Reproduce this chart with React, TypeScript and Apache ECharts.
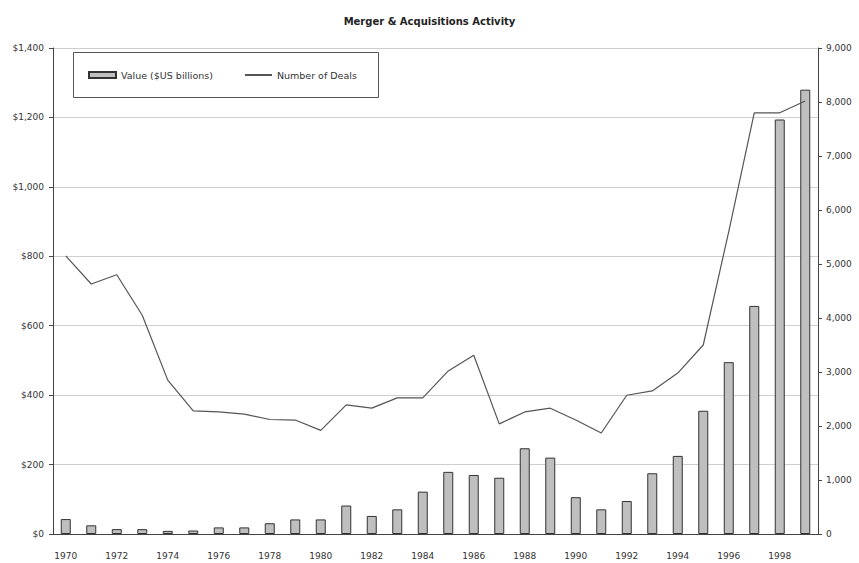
import React, { useEffect, useRef } from "react";
import * as echarts from "echarts";

const years = Array.from({ length: 30 }, (_, i) => String(1970 + i));
const dealValue = [43, 25, 14, 14, 9, 10, 19, 19, 31, 42, 42, 82, 52, 71, 122, 179, 170, 162, 247, 220, 106, 71, 95, 175, 225, 355, 495, 657, 1194, 1280];
const dealCount = [5150, 4630, 4800, 4050, 2850, 2280, 2260, 2220, 2120, 2110, 1920, 2390, 2330, 2520, 2520, 3020, 3310, 2040, 2260, 2330, 2110, 1870, 2570, 2650, 2980, 3500, 5600, 7800, 7800, 8020];

const FONT = "DejaVu Sans";

export default function App() {
  const ref = useRef<HTMLDivElement>(null);
  useEffect(() => {
    if (!ref.current) return;
    const chart = echarts.init(ref.current, null, { renderer: "svg" });
    const fmt = (v: number) => v.toLocaleString("en-US");
    chart.setOption({
      animation: false,
      backgroundColor: "#ffffff",
      title: {
        text: "Merger & Acquisitions Activity",
        left: "center",
        top: 11,
        textStyle: { fontFamily: FONT, fontSize: 10, fontWeight: "bold", color: "#222" },
      },
      graphic: [
        {
          type: "rect",
          left: 73,
          top: 52,
          shape: { width: 305, height: 45 },
          style: { fill: "#fff", stroke: "#555", lineWidth: 1 },
          z: 5,
        },
      ],
      legend: {
        left: 83,
        top: 65,
        itemGap: 31,
        itemWidth: 27,
        itemHeight: 6,
        itemStyle: {},
        z: 10,
        textStyle: { fontFamily: FONT, fontSize: 9.5, color: "#333" },
        data: [
          { name: "Value ($US billions)", icon: "rect" },
          { name: "Number of Deals", itemStyle: { opacity: 0 } },
        ],
      },
      grid: { left: 53, right: 41, top: 48, bottom: 29, containLabel: false },
      xAxis: {
        type: "category",
        data: years,
        boundaryGap: true,
        axisLine: { lineStyle: { color: "#444" } },
        axisTick: { interval: 1, length: 4, lineStyle: { color: "#444" } },
        axisLabel: { interval: 1, margin: 17, fontFamily: FONT, fontSize: 9, color: "#333" },
      },
      yAxis: [
        {
          type: "value",
          min: 0,
          max: 1400,
          interval: 200,
          axisLine: { show: true, lineStyle: { color: "#444" } },
          axisTick: { show: true, length: 4, lineStyle: { color: "#444" } },
          axisLabel: { margin: 9, fontFamily: FONT, fontSize: 9, color: "#333", formatter: (v: number) => "$" + fmt(v) },
          splitLine: { show: true, lineStyle: { color: "#cfcfcf", width: 1 } },
        },
        {
          type: "value",
          min: 0,
          max: 9000,
          interval: 1000,
          position: "right",
          axisLine: { show: true, lineStyle: { color: "#444" } },
          axisTick: { show: true, length: 4, lineStyle: { color: "#444" } },
          axisLabel: { margin: 8, fontFamily: FONT, fontSize: 9, color: "#333", formatter: (v: number) => fmt(v) },
          splitLine: { show: false },
        },
      ],
      series: [
        {
          name: "Value ($US billions)",
          type: "bar",
          yAxisIndex: 0,
          data: dealValue,
          barWidth: 10,
          itemStyle: { color: "#bfbfbf", borderColor: "#333", borderWidth: 1 },
        },
        {
          name: "Number of Deals",
          type: "line",
          yAxisIndex: 1,
          data: dealCount,
          symbol: "none",
          lineStyle: { color: "#555", width: 1.2 },
          itemStyle: { color: "#555" },
          z: 3,
        },
      ],
    });
    return () => chart.dispose();
  }, []);
  return (
    <div
      ref={ref}
      style={{ position: "fixed", left: 0, top: 0, width: 859, height: 563 }}
    />
  );
}
